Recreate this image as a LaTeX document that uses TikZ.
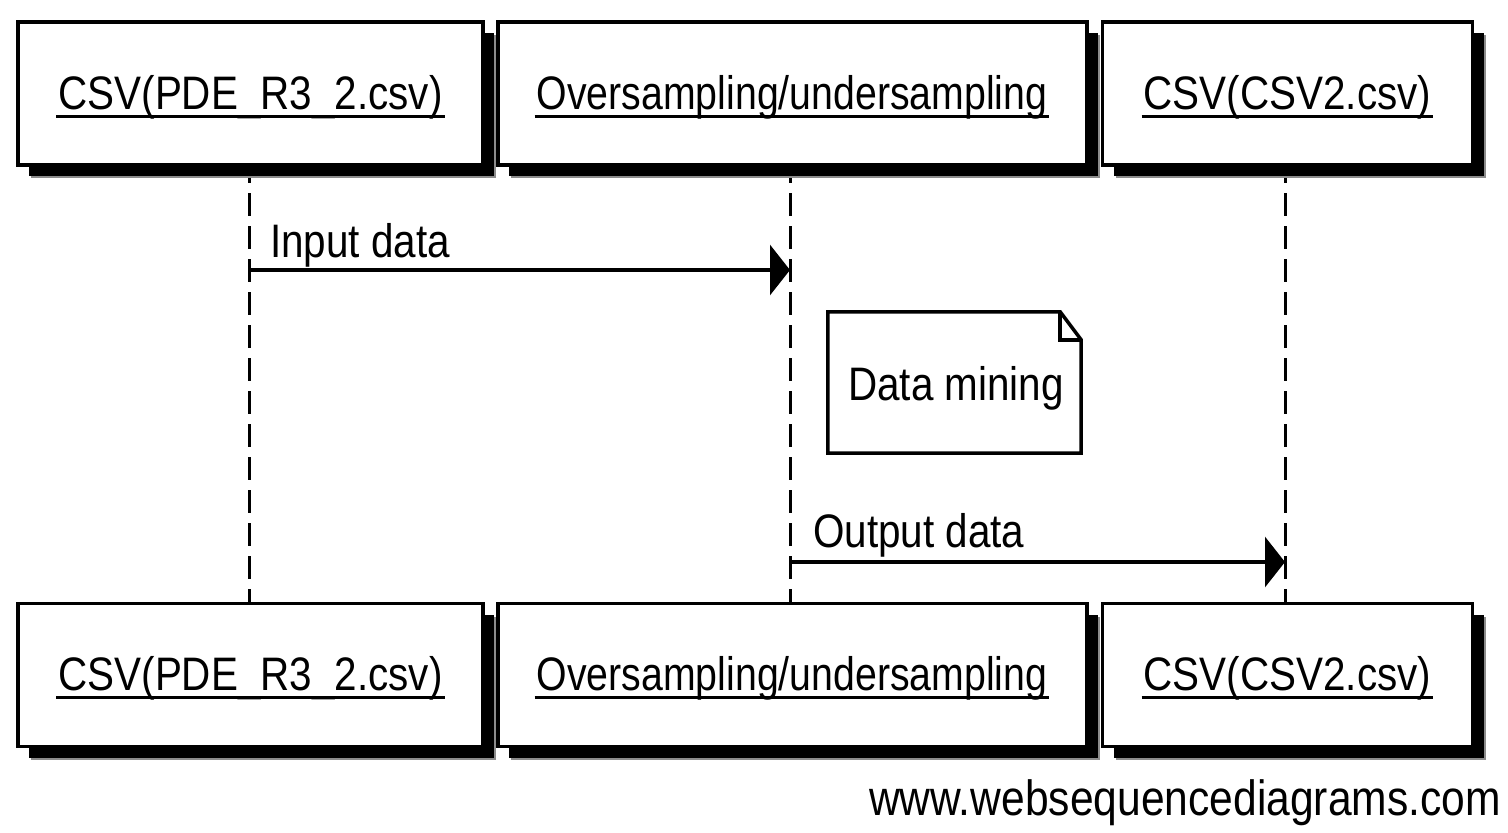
\documentclass[tikz,border=0pt]{standalone}
\usepackage{fontspec}
\newfontfamily\wsdfont[FakeStretch=0.86]{Liberation Sans}
\newfontfamily\wsdnarrow[FakeStretch=0.835]{Liberation Sans}
\usetikzlibrary{arrows.meta,shadows}
\begin{document}
\begin{tikzpicture}[x=1pt,y=-1pt,
  lbl/.style={inner sep=0pt, font=\wsdfont\fontsize{47}{56}\selectfont},
  lblnarrow/.style={inner sep=0pt, font=\wsdnarrow\fontsize{47}{56}\selectfont},
  actor/.style={draw, line width=3.5pt, fill=white, inner sep=0pt,
    minimum height=143pt,
    drop shadow={shadow xshift=13pt, shadow yshift=-13pt, fill=black!45, opacity=1},
    drop shadow={shadow xshift=11pt, shadow yshift=-11pt, fill=black, opacity=1}},
  uline/.style={line width=3pt},
  lifeline/.style={line width=3pt, dash pattern=on 23pt off 10pt, dash phase=5pt},
  msg/.style={line width=3.5pt, -{Triangle[length=20pt,width=50pt]}},
  notebox/.style={inner sep=0pt, minimum width=253pt, minimum height=141pt},
  noteline/.style={line width=3.5pt, line join=miter}]

\useasboundingbox[fill=white] (0,0) rectangle (1508,833);

% lifelines, drawn first so the participant boxes cover their ends
\coordinate (l1a) at (249,165);  \coordinate (l1b) at (249,603);
\coordinate (l2a) at (790,165);  \coordinate (l2b) at (790,603);
\coordinate (l3a) at (1285,165); \coordinate (l3b) at (1285,603);
\draw[lifeline] (l1a) -- (l1b);
\draw[lifeline] (l2a) -- (l2b);
\draw[lifeline] (l3a) -- (l3b);

% participants, top row
\node[actor, minimum width=465pt] (a1) at (250.5,93.5) {};
\node[actor, minimum width=589pt] (a2) at (792.5,93.5) {};
\node[actor, minimum width=370pt] (a3) at (1287.5,93.5) {};
% participants, bottom row
\node[actor, minimum width=465pt] (b1) at (250.5,675) {};
\node[actor, minimum width=589pt] (b2) at (792.5,675) {};
\node[actor, minimum width=370pt] (b3) at (1287.5,675) {};

% participant names, underlined
\node[lbl, anchor=base] (ta1) at (250.5,109) {CSV(PDE\_R3\_2.csv)};
\node[lblnarrow, anchor=base] (ta2) at (792,109) {Oversampling/undersampling};
\node[lbl, anchor=base] (ta3) at (1287.5,109) {CSV(CSV2.csv)};
\node[lbl, anchor=base] (tb1) at (250.5,690) {CSV(PDE\_R3\_2.csv)};
\node[lblnarrow, anchor=base] (tb2) at (792,690) {Oversampling/undersampling};
\node[lbl, anchor=base] (tb3) at (1287.5,690) {CSV(CSV2.csv)};
\foreach \t in {ta1,ta2,ta3,tb1,tb2,tb3}
  \draw[uline] ([yshift=-7pt,xshift=-2pt]\t.base west) -- ([yshift=-7pt,xshift=2pt]\t.base east);

% messages
\coordinate (m1s) at (249,270);  \coordinate (m1e) at (790,270);
\coordinate (m2s) at (790,562);  \coordinate (m2e) at (1285,562);
\draw[msg] (m1s) -- (m1e);
\draw[msg] (m2s) -- (m2e);
\node[lbl, anchor=base west] (lin) at (270,257) {Input data};
\node[lbl, anchor=base west] (lout) at (813,547) {Output data};

% note with folded corner
\node[notebox] (note) at (954.5,382.5) {};
\draw[noteline] (note.north west) -- ([xshift=-21pt]note.north east)
  -- ([yshift=-28pt]note.north east) -- (note.south east)
  -- (note.south west) -- cycle;
\draw[noteline] ([xshift=-21pt]note.north east) |- ([yshift=-28pt]note.north east);
\node[lbl, anchor=base] (ntxt) at (956,400) {Data mining};

% footer
\node[inner sep=0pt, anchor=base east, font=\wsdfont\fontsize{49.5}{58}\selectfont]
  (wm) at (1501,815) {www.websequencediagrams.com};
\end{tikzpicture}
\end{document}
